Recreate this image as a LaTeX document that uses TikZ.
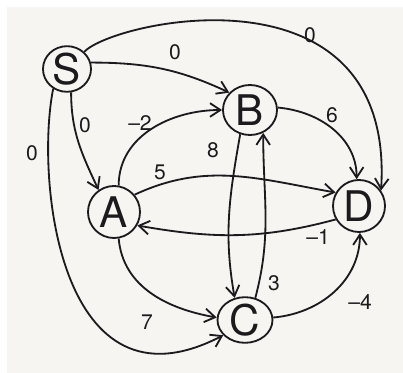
\documentclass[tikz,border=0pt]{standalone}
\usepackage{fontspec}
\setmainfont{TeX Gyre Heros}
\usetikzlibrary{arrows.meta,shapes.geometric}
\definecolor{paper}{RGB}{247,245,242}
\definecolor{ink}{RGB}{28,26,28}
\tikzset{
  vtx/.style = {ellipse, draw=ink, line width=1.3pt, inner sep=0pt,
                minimum width=1.3cm, minimum height=1.3cm,
                font=\fontsize{30}{30}\selectfont, text=ink},
  wt/.style  = {font=\fontsize{15}{15}\selectfont, text=ink, inner sep=1pt},
  ar/.style  = {-{Straight Barb[length=2.6mm,width=3.4mm]}, draw=ink, line width=1.3pt}
}

\begin{document}
\begin{tikzpicture}[x=0.025cm, y=-0.025cm]
    \fill[white] (0,0) rectangle (403,373);
    \fill[paper] (7,7) rectangle (403,373);
    \useasboundingbox (0,0) rectangle (403,373);
    \node[vtx, minimum width=1.2cm, minimum height=0.95cm] (S) at (67,69) {S};
    \node[vtx, minimum width=1.35cm, minimum height=1.25cm] (B) at (250,110) {B};
    \node[vtx] (A) at (114,212) {A};
    \node[vtx] (D) at (359,206) {D};
    \node[vtx, minimum width=1.375cm, minimum height=1.1cm] (C) at (245,320) {C};
    \draw[ar] (S.15) to[out=0, in=155] (B.140);
    \draw[ar] (S.45) .. controls (115,20) and (395,-40) .. (D.35);
    \draw[ar] (S.-80) to[out=-90, in=115] (A.125);
    \draw[ar] (S.-125) .. controls (35,180) and (60,420) .. (C.-145);
    \draw[ar] (A.80) to[out=90, in=180] (B.180);
    \draw[ar] (A.40) to[out=25, in=170] (D.150);
    \draw[ar] (D.-150) to[out=-165, in=-10] (A.-30);
    \draw[ar] (A.-80) to[out=-85, in=170] (C.175);
    \draw[ar] (B.-112) to[out=-100, in=100] (C.115);
    \draw[ar] (C.65) to[out=75, in=-90] (B.-60);
    \draw[ar] (B.5) to[out=-5, in=90] (D.95);
    \draw[ar] (C.5) to[out=5, in=-90] (D.-88);
    \node[wt] (w-sb) at (175,52) {0};
    \node[wt] (w-sd) at (310,35) {0};
    \node[wt] (w-sa) at (85,125) {0};
    \node[wt] (w-sc) at (32,153) {0};
    \node[wt] (w-ab) at (140,123) {--2};
    \node[wt] (w-bc) at (213,150) {8};
    \node[wt] (w-ad) at (160,172) {5};
    \node[wt] (w-bd) at (332,115) {6};
    \node[wt] (w-da) at (318,237) {--1};
    \node[wt] (w-cb) at (274,283) {3};
    \node[wt] (w-cd) at (360,302) {--4};
    \node[wt] (w-ac) at (147,322) {7};
\end{tikzpicture}
\end{document}
